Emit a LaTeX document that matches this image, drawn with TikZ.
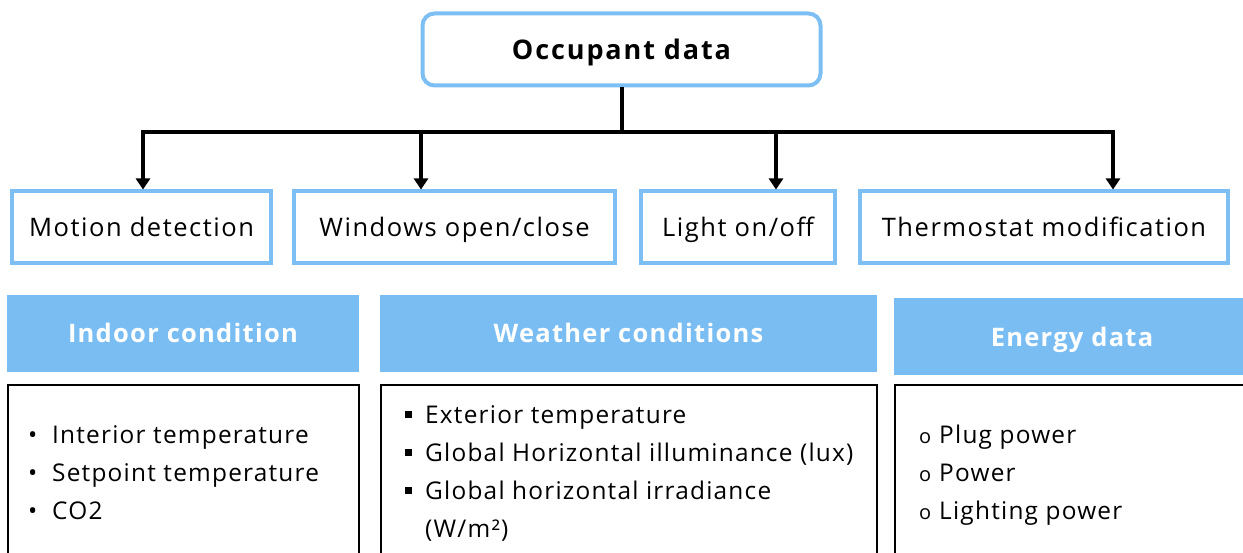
\documentclass[tikz,border=0pt]{standalone}
\usepackage{fontspec}
\setmainfont{Open Sans}[LetterSpace=5]
\usetikzlibrary{arrows.meta,positioning}
\definecolor{skyline}{RGB}{125,190,243}
\definecolor{skyfill}{RGB}{122,189,243}
\tikzset{
  occbox/.style={draw=skyline, line width=4pt, rounded corners=12pt,
    minimum width=398pt, minimum height=72pt, inner sep=0pt,
    text height=20pt, text depth=0pt,
    font=\fontsize{27}{30}\selectfont\bfseries\addfontfeatures{LetterSpace=7}},
  eventbox/.style={draw=skyline, line width=4pt, minimum height=72pt,
    inner sep=0pt, text height=19pt, text depth=0pt,
    font=\fontsize{25.5}{30}\selectfont\addfontfeatures{LetterSpace=6}},
  headbox/.style={fill=skyfill, text=white, minimum height=77pt,
    inner sep=0pt, text height=19pt, text depth=0pt,
    font=\fontsize{25.5}{30}\selectfont\bfseries},
  listbox/.style={draw=black, line width=1.3pt, anchor=north west, inner sep=0pt},
  item/.style={anchor=base west, inner sep=0pt, font=\fontsize{24.4}{26}\selectfont},
  feed/.style={line width=4pt},
  branch/.style={line width=4pt, -{Triangle[width=14pt,length=11pt]}},
}
\newcommand\dotmark{\llap{\textbullet\hspace{15pt}}}
\newcommand\squaremark{\llap{\rule[5pt]{7pt}{7pt}\hspace{13pt}}}
\newcommand\ringmark{\llap{{\fontsize{20}{20}\selectfont o}\hspace{8pt}}}

\begin{document}
\begin{tikzpicture}[x=1pt,y=-1pt]
\useasboundingbox (0,0) rectangle (1243,553);

% top of the tree
\node[occbox] (occ) at (621.5,49.5) {Occupant data};
\coordinate (bus) at (621.5,132);
\coordinate (b1) at (143,132);
\coordinate (b2) at (421,132);
\coordinate (b3) at (776,132);
\coordinate (b4) at (1113,132);

% occupant events
\node[eventbox, minimum width=259pt] (motion) at (141.5,227.5) {Motion detection};
\node[eventbox, minimum width=321pt] (window) at (454.5,227.5) {Windows open/close};
\node[eventbox, minimum width=194pt] (light) at (738,227.5) {Light on/off};
\node[eventbox, minimum width=368pt] (thermo) at (1044,227.5) {Thermostat modification};

\draw[feed] (occ.south) -- (bus);
\draw[feed, line cap=rect] (b1) -- (b4);
\draw[branch] (b1) -- (b1 |- motion.north);
\draw[branch] (b2) -- (b2 |- window.north);
\draw[branch] (b3) -- (b3 |- light.north);
\draw[branch] (b4) -- (b4 |- thermo.north);

% data groups
\node[headbox, minimum width=352pt] (indoor) at (183,333.5) {Indoor condition};
\node[headbox, minimum width=497pt] (weather) at (628.5,333.5) {Weather conditions};
\node[headbox, minimum width=356pt] (energy) at (1072,337) {Energy data};

\draw[listbox] (8,385) rectangle (359,600);
\draw[listbox] (381,385) rectangle (877,600);
\draw[listbox] (895,385) rectangle (1260,600);

\foreach \txt [count=\i] in {Interior temperature, Setpoint temperature, CO2}
  \node[item] (in\i) at (52,{443+38*(\i-1)}) {\dotmark\txt};
\foreach \txt [count=\i] in {Exterior temperature, Global Horizontal illuminance (lux), Global horizontal irradiance}
  \node[item] (we\i) at (425,{423+38*(\i-1)}) {\squaremark\txt};
\node[item] (we4) at (425,537) {(W/m²)};
\foreach \txt [count=\i] in {Plug power, Power, Lighting power}
  \node[item] (en\i) at (939,{443+38*(\i-1)}) {\ringmark\txt};
\end{tikzpicture}
\end{document}
